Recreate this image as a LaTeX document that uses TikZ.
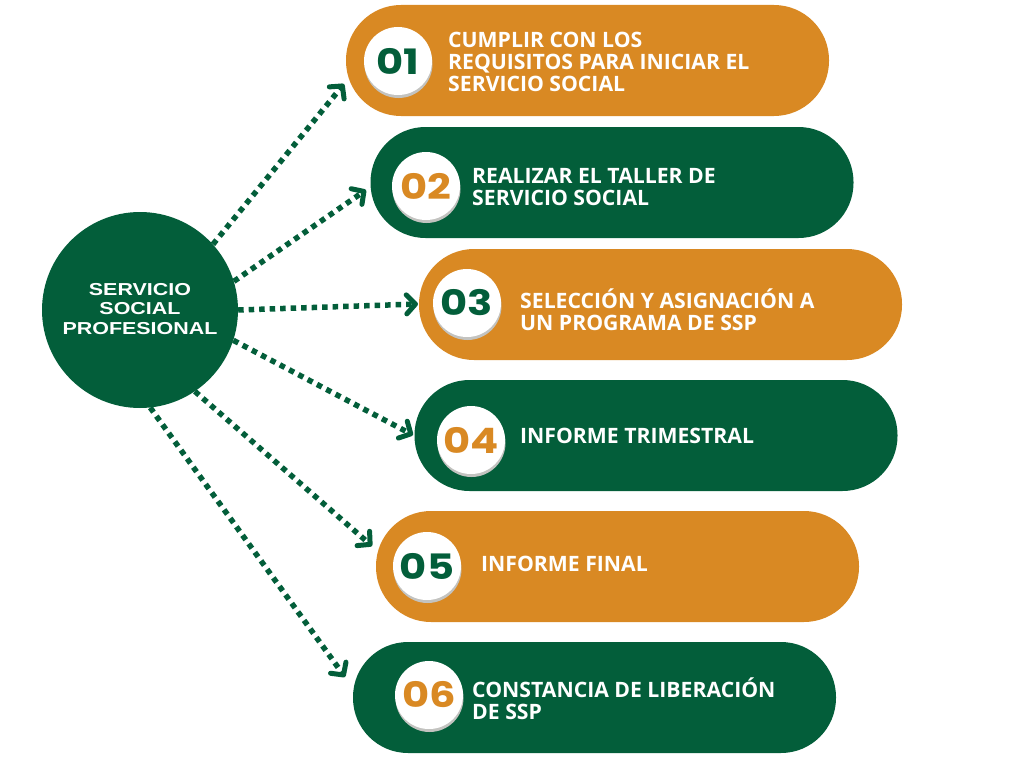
\documentclass[tikz,border=0pt]{standalone}
\usepackage{fontspec}
\usepackage{graphicx}
\setmainfont{Open Sans}
\newfontfamily\cfont{Liberation Sans}[FakeStretch=1.24]
\newfontfamily\numfont{Poppins}[FakeStretch=1.19]
\usetikzlibrary{arrows.meta}
\definecolor{ssporange}{RGB}{217,137,35}
\definecolor{sspgreen}{RGB}{3,94,58}
\definecolor{shadowgray}{RGB}{195,195,192}
\begin{document}
\begin{tikzpicture}[x=1pt,y=-1pt,
 pill/.style={rectangle, rounded corners=55pt, minimum width=483pt, minimum height=111pt, inner sep=0pt},
 badge/.style={circle, fill=white, minimum size=68pt, inner sep=0pt},
 badgeshadow/.style={circle, fill=shadowgray, minimum size=68pt, inner sep=0pt},
 numtxt/.style={font=\numfont\bfseries\fontsize{35}{35}\selectfont, inner sep=0pt},
 steptxt/.style={anchor=west, align=left, text=white, font=\bfseries\fontsize{21.2}{21.7}\selectfont, inner sep=0pt},
 conn/.style={draw=sspgreen, line width=5.5pt, dash pattern=on 5.5pt off 5pt, -{Straight Barb[length=9pt,width=19pt,line width=5pt,round]}}
]
\useasboundingbox (0,0) rectangle (1024,768);

% central circle
\node[circle, fill=sspgreen, minimum size=196pt, inner sep=0pt] (c) at (140,310) {};
\node[align=center, text=white, font=\cfont\bfseries\fontsize{17.3}{19.5}\selectfont] (ct) at (140,309) {SERVICIO\\SOCIAL\\PROFESIONAL};

% pills
\node[pill, fill=ssporange] (p1) at (587.5,60.5) {};
\node[pill, fill=sspgreen]  (p2) at (612,182.5) {};
\node[pill, fill=ssporange] (p3) at (660.5,304.5) {};
\node[pill, fill=sspgreen]  (p4) at (656,435.5) {};
\node[pill, fill=ssporange] (p5) at (617.5,566.5) {};
\node[pill, fill=sspgreen]  (p6) at (594.5,697.5) {};

% badges
\node[badgeshadow] (s1) at (398.5,64) {};
\node[badge] (b1) at (398,61) {};
\node[badgeshadow] (s2) at (426.5,189) {};
\node[badge] (b2) at (426,186) {};
\node[badgeshadow] (s3) at (467.5,306) {};
\node[badge] (b3) at (467,303) {};
\node[badgeshadow] (s4) at (471.5,443) {};
\node[badge] (b4) at (471,440) {};
\node[badgeshadow] (s5) at (427.5,569) {};
\node[badge] (b5) at (427,566) {};
\node[badgeshadow] (s6) at (429.5,698) {};
\node[badge] (b6) at (429,695) {};

\node[numtxt, text=sspgreen]  (n1) at (b1) {01};
\node[numtxt, text=ssporange] (n2) at (b2) {02};
\node[numtxt, text=sspgreen]  (n3) at (b3) {03};
\node[numtxt, text=ssporange] (n4) at (b4) {04};
\node[numtxt, text=sspgreen]  (n5) at (b5) {05};
\node[numtxt, text=ssporange] (n6) at (b6) {06};

% texts
\node[steptxt] (t1) at (448,62) {CUMPLIR CON LOS\\REQUISITOS PARA INICIAR EL\\SERVICIO SOCIAL};
\node[steptxt] (t2) at (472,187) {REALIZAR EL TALLER DE\\SERVICIO SOCIAL};
\node[steptxt] (t3) at (520,310) {SELECCIÓN Y ASIGNACIÓN A\\UN PROGRAMA DE SSP};
\node[steptxt] (t4) at (520,436) {INFORME TRIMESTRAL};
\node[steptxt] (t5) at (481,564) {INFORME FINAL};
\node[steptxt] (t6) at (472,699) {CONSTANCIA DE LIBERACIÓN\\DE SSP};

% arrow ends
\coordinate (e1) at (344,84);
\coordinate (e2) at (366,190);
\coordinate (e3) at (418,304);
\coordinate (e4) at (413,435);
\coordinate (e5) at (372,546);
\coordinate (e6) at (345,677);

\draw[conn] (c.42) -- (e1);
\draw[conn] (c.17) -- (e2);
\draw[conn] (c.0) -- (e3);
\draw[conn] (c.-18) -- (e4);
\draw[conn] (c.-56) -- (e5);
\draw[conn] (c.-84) -- (e6);
\end{tikzpicture}
\end{document}
